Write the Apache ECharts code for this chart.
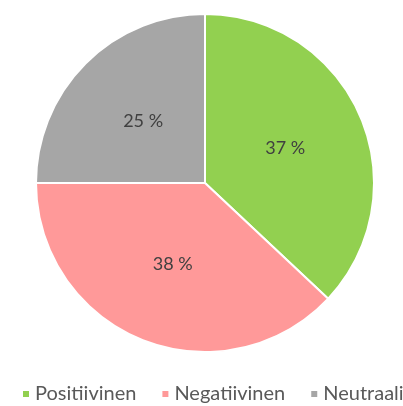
<!DOCTYPE html>
<html>
<head>
<meta charset="utf-8">
<script src="https://cdn.jsdelivr.net/npm/echarts@6/dist/echarts.min.js"></script>
<style>
  html, body { margin: 0; padding: 0; background: #fff; }
  #chart { width: 403px; height: 406px; }
</style>
</head>
<body>
<div id="chart"></div>
<script>
const categories = ['Positiivinen', 'Negatiivinen', 'Neutraali'];
const shares = [37, 38, 25];
const colors = ['#92D050', '#FF9999', '#A6A6A6'];

const chart = echarts.init(document.getElementById('chart'));
chart.setOption({
  animation: false,
  color: colors,
  legend: {
    bottom: 2,
    left: 21,
    width: 400,
    padding: 0,
    icon: 'rect',
    itemWidth: 8,
    itemHeight: 8,
    itemGap: 24,
    textStyle: { color: '#595959', fontSize: 20, fontFamily: 'Lato' },
    data: categories
  },
  series: [{
    type: 'pie',
    center: [205, 183],
    radius: [0, 169],
    startAngle: 90,
    clockwise: true,
    itemStyle: { borderColor: '#fff', borderWidth: 2 },
    label: {
      position: 'inside',
      formatter: '{c} %',
      color: '#404040',
      fontSize: 18,
      fontFamily: 'Lato'
    },
    labelLine: { show: false },
    emphasis: { disabled: true },
    data: categories.map((name, i) => ({ name: name, value: shares[i] }))
  }]
});
</script>
</body>
</html>
